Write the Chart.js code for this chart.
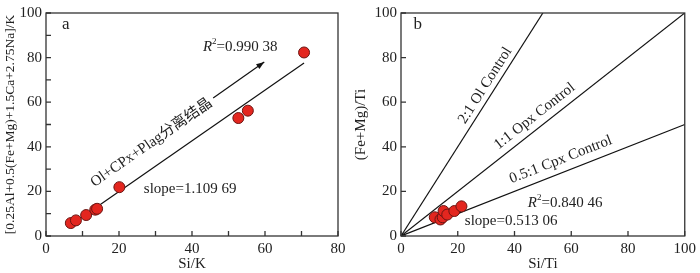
<!DOCTYPE html>
<html lang="zh">
  <head>
    <meta charset="UTF-8" />
    <title>Si/K 与 Si/Ti 比值图</title>
    <style>
      body {
        margin: 0;
        background: #fff;
      }
      #wrap {
        position: relative;
        width: 700px;
        height: 273px;
      }
      canvas {
        position: absolute;
        top: 0;
      }
    </style>
    <script src="https://cdn.jsdelivr.net/npm/chart.js"></script>
  </head>
  <body>
    <div id="wrap">
      <canvas id="chartA" width="350" height="273" style="left: 0"></canvas>
      <canvas id="chartB" width="350" height="273" style="left: 350px"></canvas>
    </div>

    <script>
      // panel a: Si/K vs [0.25Al+0.5(Fe+Mg)+1.5Ca+2.75Na]/K
      const siK = [6.8, 8.2, 11.0, 13.5, 14.0, 20.1, 52.7, 55.3, 70.7];
      const sumK = [5.8, 7.0, 9.4, 11.8, 12.2, 21.9, 52.9, 56.2, 82.3];
      const fitAx = [7.0, 70.7];
      const fitAy = [5.2, 77.6];
      const arrowAx = [45.8, 59.8];
      const arrowAy = [61.9, 78.0];
      const xTicksA = [0, 20, 40, 60, 80];
      const yTicksA = [0, 20, 40, 60, 80, 100];
      const xMinorA = [10, 30, 50, 70];
      const yMinorA = [10, 30, 50, 70, 90];

      // panel b: Si/Ti vs (Fe+Mg)/Ti
      const siTi = [11.9, 13.9, 14.7, 15.0, 16.3, 18.8, 21.3];
      const feMgTi = [8.4, 7.4, 8.4, 11.2, 9.6, 11.2, 13.3];
      const ctrlNames = ["2:1 Ol Control", "1:1 Opx Control", "0.5:1 Cpx Control"];
      const ctrlX = [[0, 50], [0, 100], [0, 100]];
      const ctrlY = [[0, 100], [0, 100], [0, 50]];
      const xTicksB = [0, 20, 40, 60, 80, 100];
      const yTicksB = [0, 20, 40, 60, 80, 100];

      const FONT = "'Liberation Serif', 'Times New Roman', 'Noto Sans CJK SC', serif";
      const INK = "#222";

      const toXY = (xs, ys) => xs.map((x, i) => ({ x: x, y: ys[i] }));

      // R^2 with italic R and small superscript 2
      function drawR2(ctx, px, py, value) {
        ctx.textAlign = "left";
        ctx.textBaseline = "middle";
        ctx.font = "italic 15px " + FONT;
        ctx.fillText("R", px, py);
        let w = ctx.measureText("R").width;
        ctx.font = "9px " + FONT;
        ctx.fillText("2", px + w, py - 5);
        w += ctx.measureText("2").width;
        ctx.font = "15px " + FONT;
        ctx.fillText("=" + value, px + w, py);
      }

      // frame, inward ticks, labels
      const decorPlugin = {
        id: "decor",
        afterDraw(chart, args, opts) {
          const { ctx, chartArea: a } = chart;
          const x = chart.scales.x;
          const y = chart.scales.y;
          ctx.save();
          ctx.strokeStyle = "#333";
          ctx.lineWidth = 1.3;
          ctx.strokeRect(a.left, a.top, a.right - a.left, a.bottom - a.top);

          ctx.beginPath();
          opts.xTicks.forEach((v) => {
            const px = x.getPixelForValue(v);
            ctx.moveTo(px, a.bottom);
            ctx.lineTo(px, a.bottom - 5);
          });
          opts.yTicks.forEach((v) => {
            const py = y.getPixelForValue(v);
            ctx.moveTo(a.left, py);
            ctx.lineTo(a.left + 5, py);
          });
          ctx.stroke();

          ctx.fillStyle = INK;
          // panel letter
          ctx.font = "17px " + FONT;
          ctx.textAlign = "left";
          ctx.textBaseline = "middle";
          ctx.fillText(opts.letter.t, x.getPixelForValue(opts.letter.x), y.getPixelForValue(opts.letter.y));

          // plain labels
          opts.labels.forEach((l) => {
            const px = x.getPixelForValue(l.x);
            const py = y.getPixelForValue(l.y);
            if (l.r2) {
              drawR2(ctx, px, py, l.r2);
            } else {
              ctx.font = "15px " + FONT;
              ctx.textAlign = "left";
              ctx.textBaseline = "middle";
              ctx.fillText(l.t, px, py);
            }
          });

          // labels rotated along a line
          opts.rotated.forEach((l) => {
            const dx = x.getPixelForValue(l.lx[1]) - x.getPixelForValue(l.lx[0]);
            const dy = y.getPixelForValue(l.ly[1]) - y.getPixelForValue(l.ly[0]);
            ctx.save();
            ctx.translate(x.getPixelForValue(l.x), y.getPixelForValue(l.y));
            ctx.rotate(Math.atan2(dy, dx));
            ctx.font = "15px " + FONT;
            ctx.textAlign = "center";
            ctx.textBaseline = "middle";
            ctx.fillText(l.t, 0, 0);
            ctx.restore();
          });

          // arrow head
          if (opts.arrow != null) {
            const pts = chart.getDatasetMeta(opts.arrow).data;
            const p0 = pts[0];
            const p1 = pts[pts.length - 1];
            const ang = Math.atan2(p1.y - p0.y, p1.x - p0.x);
            ctx.save();
            ctx.translate(p1.x, p1.y);
            ctx.rotate(ang);
            ctx.beginPath();
            ctx.moveTo(0, 0);
            ctx.lineTo(-8, -3);
            ctx.lineTo(-8, 3);
            ctx.closePath();
            ctx.fillStyle = "#111";
            ctx.fill();
            ctx.restore();
          }
          ctx.restore();
        },
      };

      function pointSet(xs, ys) {
        return {
          data: toXY(xs, ys),
          backgroundColor: "#e3261f",
          borderColor: "#6b1512",
          borderWidth: 1,
          pointRadius: 5.5,
          order: 0,
        };
      }

      function lineSet(xs, ys) {
        return {
          data: toXY(xs, ys),
          showLine: true,
          borderColor: "#111",
          borderWidth: 1.2,
          pointRadius: 0,
          order: 1,
        };
      }

      function axis(min, max, ticks, title, isY, fixedSize, titleSize) {
        return {
          type: "linear",
          min: min,
          max: max,
          afterBuildTicks: (s) => {
            s.ticks = ticks.map((v) => ({ value: v }));
          },
          afterFit: (s) => {
            if (isY) s.width = fixedSize;
            else s.height = fixedSize;
          },
          grid: { display: false, drawTicks: false },
          border: { display: false },
          ticks: {
            color: INK,
            font: { family: FONT, size: 15 },
            padding: 4,
          },
          title: {
            display: true,
            text: title,
            color: INK,
            font: { family: FONT, size: titleSize },
            padding: { top: isY ? 2 : 0, bottom: isY ? 2 : 0 },
          },
        };
      }

      function makeChart(id, datasets, scales, padRight, decor) {
        return new Chart(document.getElementById(id), {
          type: "scatter",
          data: { datasets: datasets },
          options: {
            responsive: false,
            animation: false,
            layout: { autoPadding: false, padding: { top: 5, right: padRight, bottom: 0, left: 0 } },
            plugins: { legend: { display: false }, tooltip: { enabled: false }, decor: decor },
            scales: scales,
          },
          plugins: [decorPlugin],
        });
      }

      makeChart(
        "chartA",
        [pointSet(siK, sumK), lineSet(fitAx, fitAy), lineSet(arrowAx, arrowAy)],
        {
          x: axis(0, 80, xTicksA, "Si/K", false, 37, 15),
          y: axis(0, 100, yTicksA, "[0.25Al+0.5(Fe+Mg)+1.5Ca+2.75Na]/K", true, 46, 13.5),
        },
        12,
        {
          xTicks: xTicksA.concat(xMinorA),
          yTicks: yTicksA.concat(yMinorA),
          letter: { t: "a", x: 4.4, y: 94.8 },
          labels: [
            { r2: "0.990 38", x: 43, y: 84.8 },
            { t: "slope=1.109 69", x: 26.8, y: 21.2 },
          ],
          rotated: [{ t: "Ol+CPx+Plag分离结晶", x: 28.9, y: 41.8, lx: fitAx, ly: fitAy }],
          arrow: 2,
        }
      );

      makeChart(
        "chartB",
        [pointSet(siTi, feMgTi)].concat(ctrlX.map((xs, i) => lineSet(xs, ctrlY[i]))),
        {
          x: axis(0, 100, xTicksB, "Si/Ti", false, 37, 15),
          y: axis(0, 100, yTicksB, "(Fe+Mg)/Ti", true, 51, 15),
        },
        6,
        {
          xTicks: xTicksB,
          yTicks: yTicksB,
          letter: { t: "b", x: 4.4, y: 94.8 },
          labels: [
            { r2: "0.840 46", x: 44.7, y: 14.8 },
            { t: "slope=0.513 06", x: 22.5, y: 6.5 },
          ],
          rotated: [
            { t: ctrlNames[0], x: 29.7, y: 67.5, lx: ctrlX[0], ly: ctrlY[0] },
            { t: ctrlNames[1], x: 47.1, y: 53.7, lx: ctrlX[1], ly: ctrlY[1] },
            { t: ctrlNames[2], x: 56.3, y: 34.2, lx: ctrlX[2], ly: ctrlY[2] },
          ],
          arrow: null,
        }
      );
    </script>
  </body>
</html>
